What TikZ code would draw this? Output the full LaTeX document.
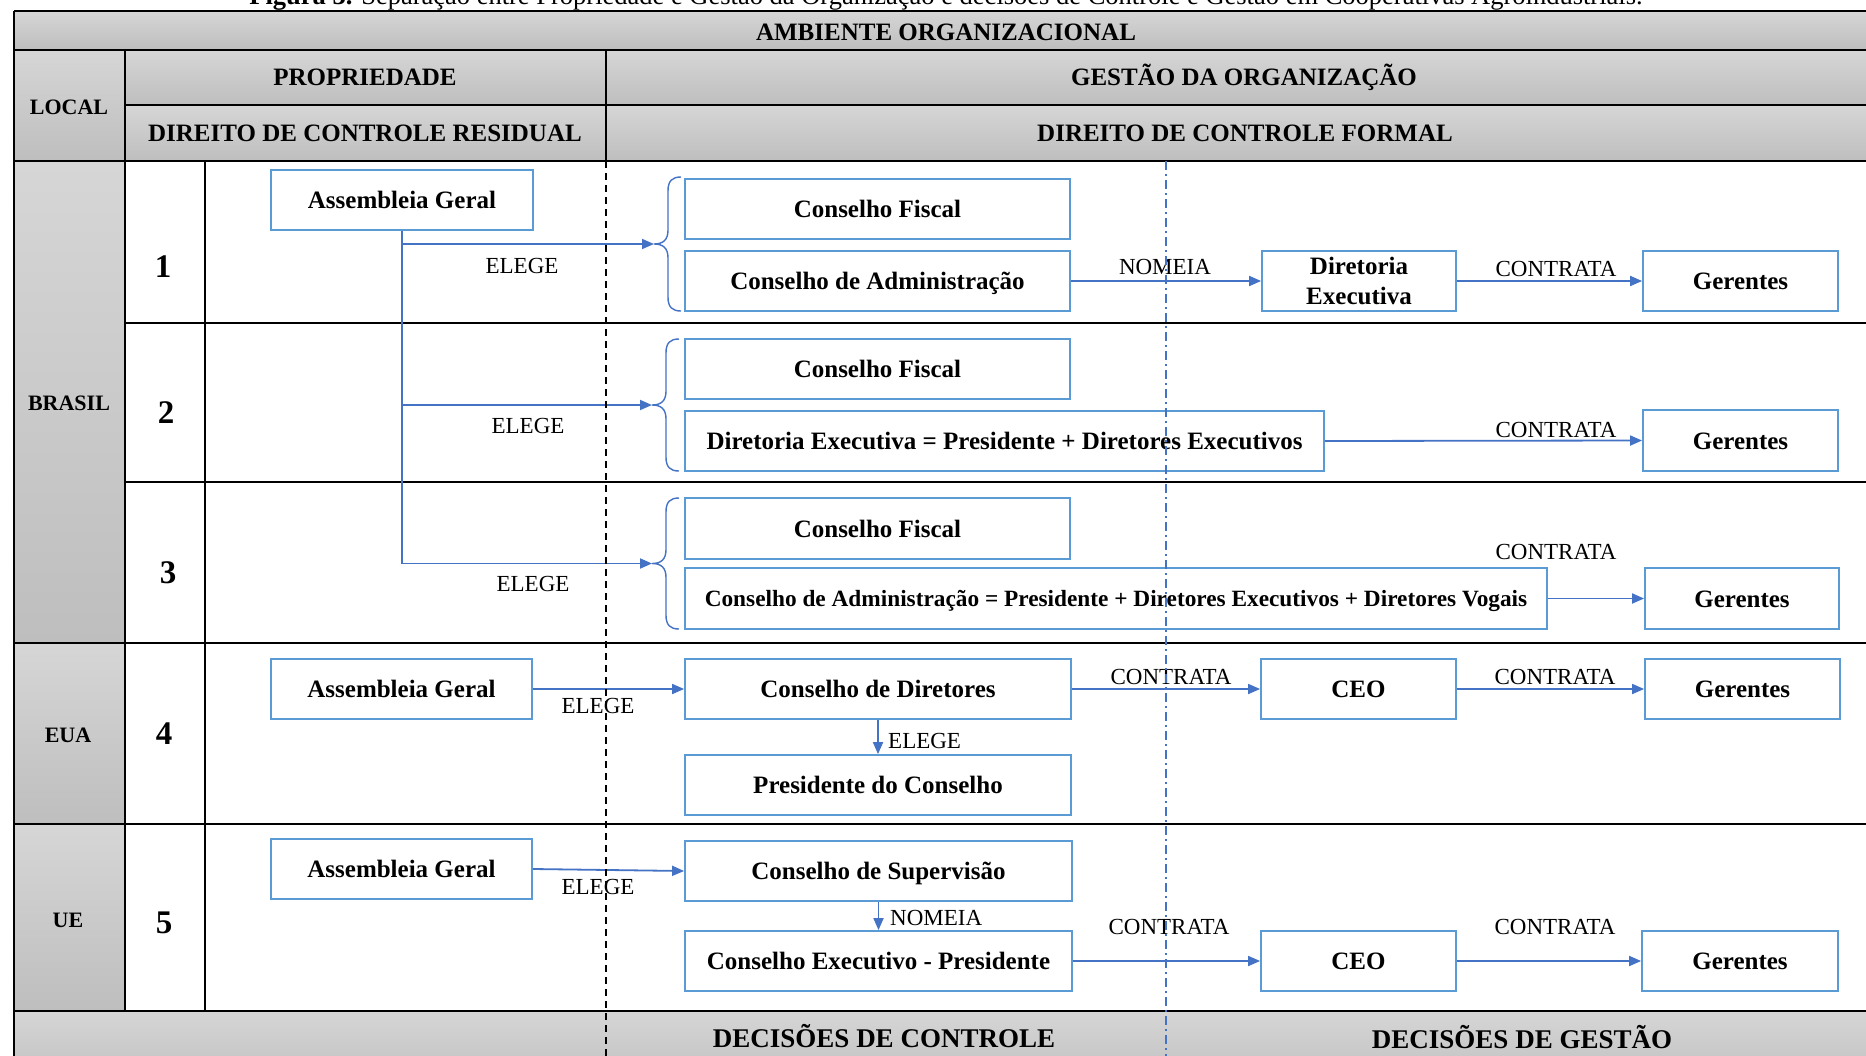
\documentclass[tikz,border=0pt]{standalone}
\usepackage{fontspec}
\setmainfont{Liberation Serif}
\usetikzlibrary{arrows.meta}

\definecolor{boxblue}{RGB}{91,155,213}
\definecolor{arrblue}{RGB}{68,114,196}
\definecolor{celltop}{RGB}{214,214,214}
\definecolor{cellbot}{RGB}{190,190,190}

\newcommand\setfs[1]{\fontsize{#1}{#1}\selectfont}

% left curly brace: #1 = x of both ends, #2 = top y, #3 = bottom y
\newcommand\LBrace[3]{%
  \draw[brc] (#1,#2) .. controls ({#1-9},#2) and ({#1-13},{#2+4}) .. ({#1-13},{#2+14})
    -- ({#1-13},{(#2+#3)/2-14}) .. controls ({#1-13},{(#2+#3)/2-4}) and ({#1-18},{(#2+#3)/2}) .. ({#1-27},{(#2+#3)/2})
    .. controls ({#1-18},{(#2+#3)/2}) and ({#1-13},{(#2+#3)/2+4}) .. ({#1-13},{(#2+#3)/2+14})
    -- ({#1-13},{#3-14}) .. controls ({#1-13},{#3-4}) and ({#1-9},#3) .. (#1,#3);}

\begin{document}
\begin{tikzpicture}[x=1pt,y=-1pt,
  boxbase/.style={draw=boxblue,line width=1.8pt,fill=white,inner sep=0pt,
    minimum height=60pt,font=\bfseries\setfs{25}},
  bx/.style={boxbase,text height=17pt,text depth=0pt},
  hd/.style={anchor=base,inner sep=0pt,font=\bfseries\setfs{25}},
  side/.style={anchor=base,inner sep=0pt,font=\bfseries\setfs{22}},
  num/.style={anchor=base,inner sep=0pt,font=\bfseries\setfs{33}},
  lbl/.style={anchor=base,inner sep=0pt,font=\setfs{23}},
  arr/.style={draw=arrblue,line width=1.8pt,-{Triangle[length=12pt,width=10pt]}},
  brc/.style={draw=arrblue,line width=1.4pt},
  grid/.style={line width=2pt},
  cell/.style={top color=celltop,bottom color=cellbot},
]
\useasboundingbox (0,0) rectangle (1866,1055);
\begin{scope}
\clip (0,0) rectangle (1866,1055);

% caption
\node[anchor=base,inner sep=0pt,font=\setfs{26.5}] (cap) at (946,4)
  {\textbf{Figura 3.} Separação entre Propriedade e Gestão da Organização e decisões de Controle e Gestão em Cooperativas Agroindustriais.};

% grey cells
\shade[cell] (14,11) rectangle (1890,50);
\shade[cell] (14,50) rectangle (125,161);
\shade[cell] (125,50) rectangle (606,105);
\shade[cell] (606,50) rectangle (1890,105);
\shade[cell] (125,105) rectangle (606,161);
\shade[cell] (606,105) rectangle (1890,161);
\shade[cell] (14,161) rectangle (125,643);
\shade[cell] (14,643) rectangle (125,824);
\shade[cell] (14,824) rectangle (125,1011);
\shade[top color=celltop,bottom color=celltop!90!black] (14,1011) rectangle (1890,1080);

% table rules
\draw[grid] (14,11) -- (1890,11);
\draw[grid] (14,50) -- (1890,50);
\draw[grid] (125,105) -- (1890,105);
\draw[grid] (14,161) -- (1890,161);
\draw[grid] (125,323) -- (1890,323);
\draw[grid] (125,482) -- (1890,482);
\draw[grid] (14,643) -- (1890,643);
\draw[grid] (14,824) -- (1890,824);
\draw[grid] (14,1011) -- (1890,1011);
\draw[grid] (14,11) -- (14,1080);
\draw[line width=1.8pt] (125,50) -- (125,1011);
\draw[line width=1.6pt] (205,161) -- (205,1011);
\draw[line width=1.8pt] (606,50) -- (606,161);

% header texts
\node[hd] (amb) at (946,40.5) {AMBIENTE ORGANIZACIONAL};
\node[side] (loc) at (69,114) {LOCAL};
\node[hd] (prop) at (365,85.5) {PROPRIEDADE};
\node[hd] (gest) at (1244,85.5) {GESTÃO DA ORGANIZAÇÃO};
\node[hd] (dres) at (365,141) {DIREITO DE CONTROLE RESIDUAL};
\node[hd] (dfor) at (1245,141) {DIREITO DE CONTROLE FORMAL};
\node[side] (bra) at (69,410) {BRASIL};
\node[side] (eua) at (68,742) {EUA};
\node[side] (ue) at (68,927) {UE};
\node[num] (n1) at (163,277) {1};
\node[num] (n2) at (166,423) {2};
\node[num] (n3) at (168,583) {3};
\node[num] (n4) at (164,744) {4};
\node[num] (n5) at (164,933) {5};
\node[hd,font=\bfseries\setfs{27}] (dc) at (884,1047) {DECISÕES DE CONTROLE};
\node[hd,font=\bfseries\setfs{27}] (dg) at (1522,1048) {DECISÕES DE GESTÃO};

% row 1
\node[bx,minimum width=262pt] (ag1) at (402,200) {Assembleia Geral};
\node[bx,minimum width=385pt] (cf1) at (877.5,209) {Conselho Fiscal};
\node[bx,minimum width=385pt] (ca1) at (877.5,281) {Conselho de Administração};
\node[boxbase,minimum width=194pt,align=center,font=\bfseries\fontsize{25}{30}\selectfont] (de1) at (1359,281) {Diretoria\\Executiva};
\node[bx,minimum width=195pt] (ge1) at (1740.5,281) {Gerentes};
% row 2
\node[bx,minimum width=385pt] (cf2) at (877.5,369) {Conselho Fiscal};
\node[bx,minimum width=639pt] (dx2) at (1004.5,441) {Diretoria Executiva = Presidente + Diretores Executivos};
\node[bx,minimum width=195pt,minimum height=61pt] (ge2) at (1740.5,440.5) {Gerentes};
% row 3
\node[bx,minimum width=385pt,minimum height=61pt] (cf3) at (877.5,528.5) {Conselho Fiscal};
\node[bx,minimum width=862pt,minimum height=61pt,font=\bfseries\setfs{23.3},text height=16pt] (ca3) at (1116,598.5) {Conselho de Administração = Presidente + Diretores Executivos + Diretores Vogais};
\node[bx,minimum width=194pt,minimum height=61pt] (ge3) at (1742,598.5) {Gerentes};
% row 4
\node[bx,minimum width=261pt] (ag4) at (401.5,689) {Assembleia Geral};
\node[bx,minimum width=386pt] (cd4) at (878,689) {Conselho de Diretores};
\node[bx,minimum width=386pt] (pc4) at (878,785) {Presidente do Conselho};
\node[bx,minimum width=195pt] (ceo4) at (1358.5,689) {CEO};
\node[bx,minimum width=195pt] (ge4) at (1742.5,689) {Gerentes};
% row 5
\node[bx,minimum width=261pt] (ag5) at (401.5,869) {Assembleia Geral};
\node[bx,minimum width=387pt] (cs5) at (878.5,871) {Conselho de Supervisão};
\node[bx,minimum width=387pt] (cep5) at (878.5,961) {Conselho Executivo - Presidente};
\node[bx,minimum width=195pt] (ceo5) at (1358.5,961) {CEO};
\node[bx,minimum width=196pt] (ge5) at (1740,961) {Gerentes};

% braces grouping the elected bodies
\LBrace{681}{177}{311}
\LBrace{679}{339}{471}
\LBrace{679}{498}{629}
\coordinate (b1) at (654,244);
\coordinate (b2) at (652,405);
\coordinate (b3) at (652,563.5);

% connectors
\draw[arr] (ag1.south) |- (b1);
\draw[arr] (ag1.south) |- (b2);
\draw[arr] (ag1.south) |- (b3);
\draw[arr] (ca1.east) -- (de1.west);
\draw[arr] (de1.east) -- (ge1.west);
\draw[arr] (dx2.east) -- (ge2.west);
\draw[arr] (ca3.east) -- (ge3.west);
\draw[arr] (ag4.east) -- (cd4.west);
\draw[arr] (cd4.south) -- (pc4.north);
\draw[arr] (cd4.east) -- (ceo4.west);
\draw[arr] (ceo4.east) -- (ge4.west);
\draw[arr] (ag5.east) -- (cs5.west);
\draw[arr] (cs5.south) -- (cep5.north);
\draw[arr] (cep5.east) -- (ceo5.west);
\draw[arr] (ceo5.east) -- (ge5.west);

% connector labels
\node[lbl] (e1) at (522,273) {ELEGE};
\node[lbl] (e2) at (528,433) {ELEGE};
\node[lbl] (e3) at (533,591) {ELEGE};
\node[lbl] (nm1) at (1165,274) {NOMEIA};
\node[lbl] (c1) at (1556,276) {CONTRATA};
\node[lbl] (c2) at (1556,437) {CONTRATA};
\node[lbl] (c3) at (1556,559) {CONTRATA};
\node[lbl] (e4) at (598,713) {ELEGE};
\node[lbl,anchor=base west] (e4b) at (888,748) {ELEGE};
\node[lbl] (c4a) at (1171,684) {CONTRATA};
\node[lbl] (c4b) at (1555,684) {CONTRATA};
\node[lbl] (e5) at (598,894) {ELEGE};
\node[lbl,anchor=base west] (nm5) at (890,925) {NOMEIA};
\node[lbl] (c5a) at (1169,934) {CONTRATA};
\node[lbl] (c5b) at (1555,934) {CONTRATA};

% property / control / management dividers
\draw[line width=1.6pt,dash pattern=on 7pt off 5pt] (606,161) -- (606,1060);
\draw[arrblue,line width=1.5pt,dash pattern=on 9pt off 4pt on 2pt off 4pt] (1166,161) -- (1166,1060);
\end{scope}
\end{tikzpicture}
\end{document}
